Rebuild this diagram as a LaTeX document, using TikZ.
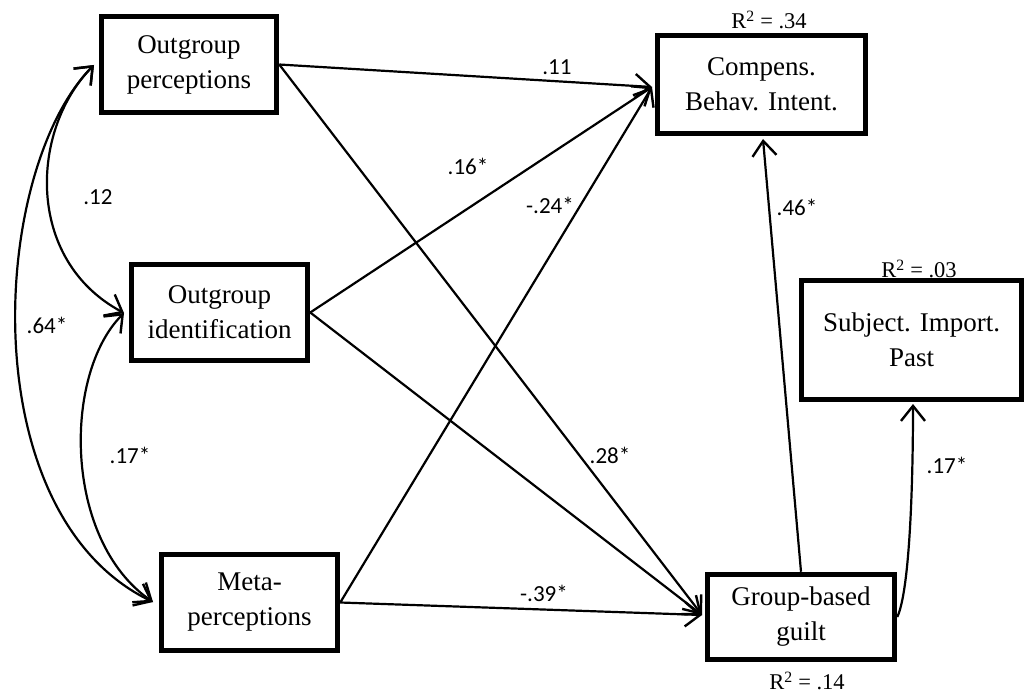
\documentclass[tikz,border=0pt]{standalone}
\usepackage{fontspec}
\setmainfont{Liberation Serif}
\newfontfamily\labfont{Carlito}
\usetikzlibrary{arrows.meta}
\begin{document}
\begin{tikzpicture}[x=1pt,y=-1pt,
  box/.style={draw, line width=5pt, align=center, inner sep=0pt,
    font=\fontsize{27}{35}\selectfont},
  conn/.style={line width=2.2pt, -{Straight Barb[length=15pt,width=24pt,line width=2.4pt]}},
  dconn/.style={line width=2.2pt, {Straight Barb[length=15pt,width=24pt,line width=2.4pt]}-{Straight Barb[length=15pt,width=24pt,line width=2.4pt]}},
  coef/.style={font=\labfont\fontsize{23}{27}\selectfont, inner sep=0pt},
  rsq/.style={font=\fontsize{22.5}{26}\selectfont, inner sep=0pt}]
\useasboundingbox (0,0) rectangle (1025,695);
% boxes
\node[box, minimum width=175.5pt, minimum height=96.5pt] (op) at (189,64.5) {Outgroup\\perceptions};
\node[box, minimum width=176.5pt, minimum height=96.5pt] (oi) at (219.5,312.5) {Outgroup\\identification};
\node[box, minimum width=176.5pt, minimum height=96.5pt] (mp) at (249.5,602.5) {Meta-\\perceptions};
\node[box, minimum width=208.5pt, minimum height=98.5pt] (cb) at (761.5,84.5) {Compens.\\Behav. Intent.};
\node[box, minimum width=219.5pt, minimum height=119.5pt] (si) at (911.5,340) {Subject. Import.\\Past};
\node[box, minimum width=187.5pt, minimum height=85.5pt] (gg) at (801,617) {Group-based\\guilt};
% R2 labels
\node[rsq] (r1) at (769,20) {R\textsuperscript{2} = .34};
\node[rsq] (r2) at (919,269) {R\textsuperscript{2} = .03};
\node[rsq] (r3) at (807,681) {R\textsuperscript{2} = .14};
% arrow end points
\coordinate (cin) at (652,87);
\coordinate (gin) at (702,615);
\coordinate (cbot) at (763,139);
\coordinate (sbot) at (913,404);
\coordinate (opl) at (94,65);
\coordinate (oil) at (124,313);
\coordinate (mpl) at (153,602);
% straight paths
\draw[conn] (op.east) -- (cin);
\draw[conn] (op.east) -- (gin);
\draw[conn] (oi.east) -- (cin);
\draw[conn] (oi.east) -- (gin);
\draw[conn] (mp.east) -- (cin);
\draw[conn] (mp.east) -- (gin);
\draw[conn] (gg.north) -- (cbot);
\draw[conn] (gg.east) .. controls (910,590) and (913,480) .. (sbot);
% covariances
\draw[dconn] (opl) .. controls (30,130) and (25,260) .. (oil);
\draw[dconn] (oil) .. controls (63,374) and (63,540) .. (mpl);
\draw[dconn] (opl) .. controls (-10,170) and (-29,514) .. (mpl);
% coefficients
\node[coef] (c11) at (557,67) {.11};
\node[coef] (c16) at (468,166) {.16*};
\node[coef] (c24) at (550,205) {-.24*};
\node[coef] (c28) at (610,455) {.28*};
\node[coef] (c39) at (544,593) {-.39*};
\node[coef] (c46) at (797,207) {.46*};
\node[coef] (c17b) at (947,465) {.17*};
\node[coef] (c12) at (98,197) {.12};
\node[coef] (c64) at (47,325) {.64*};
\node[coef] (c17a) at (130,455) {.17*};
\end{tikzpicture}
\end{document}
